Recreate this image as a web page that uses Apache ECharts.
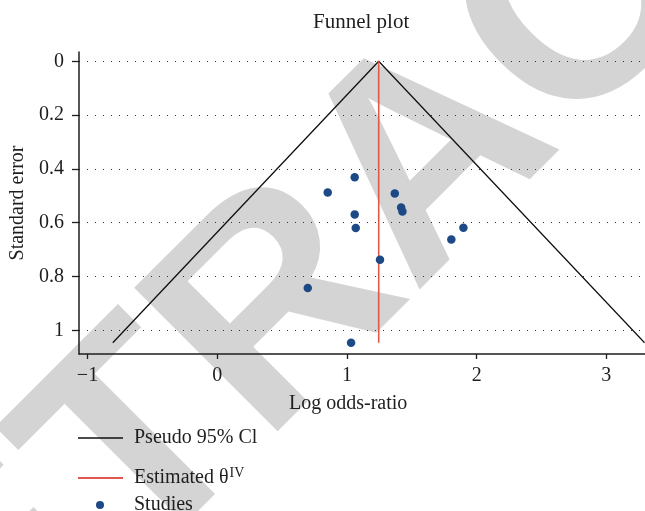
<!DOCTYPE html>
<html>
<head>
<meta charset="utf-8">
<script src="https://cdn.jsdelivr.net/npm/echarts@6/dist/echarts.min.js"></script>
<style>
  html, body { margin: 0; padding: 0; background: #fff; }
  #chart { width: 645px; height: 511px; }
</style>
</head>
<body>
<div id="chart"></div>
<script>
// Study estimates: log odds-ratio and its standard error
const studyLogOR = [1.060, 0.852, 1.369, 1.060, 1.068, 1.418, 1.428, 1.898, 1.805, 1.255, 0.698, 1.032];
const studySE    = [0.431, 0.488, 0.491, 0.569, 0.620, 0.543, 0.558, 0.619, 0.662, 0.738, 0.843, 1.046];

// Pseudo 95% confidence limits (left foot, apex, right foot)
const funnelLogOR = [-0.805, 1.245, 3.295];
const funnelSE    = [1.046, 0, 1.046];

// Inverse-variance pooled estimate, drawn down to the largest standard error
const estimateLogOR = [1.245, 1.245];
const estimateSE    = [0, 1.046];

// Axis ticks
const xTicks = [-1, 0, 1, 2, 3];
const yTicks = [0, 0.2, 0.4, 0.6, 0.8, 1];

const FONT = 'Liberation Serif';
const INK = '#1e1e1e';

const zip = (xs, ys) => xs.map((x, i) => [x, ys[i]]);

const chart = echarts.init(document.getElementById('chart'), null, { renderer: 'canvas' });

chart.setOption({
  animation: false,
  backgroundColor: '#ffffff',
  title: [
    {
      text: 'Funnel plot',
      left: 313, top: 12, padding: 0,
      textStyle: { fontFamily: FONT, fontSize: 21, fontWeight: 'normal', color: INK }
    },
    {
      text: 'Log odds-ratio',
      left: 289, top: 394, padding: 0,
      textStyle: { fontFamily: FONT, fontSize: 20, fontWeight: 'normal', color: INK }
    }
  ],
  graphic: [
    {
      type: 'text',
      z: -10,
      x: -211, y: 805,
      rotation: Math.PI / 4,
      silent: true,
      style: {
        text: 'RETRACTED',
        fill: '#d4d4d4',
        font: 'bold 295px "Liberation Sans", Arial, sans-serif',
        align: 'left',
        verticalAlign: 'middle'
      }
    }
  ],
  legend: [
    {
      data: [{ name: 'Pseudo 95% Cl', icon: 'rect' }],
      left: 78, top: 428, padding: 0,
      itemWidth: 45, itemHeight: 1.5,
      textStyle: { fontFamily: FONT, fontSize: 20, color: INK, padding: [0, 0, 0, 6] }
    },
    {
      data: [{ name: 'Estimated θ', icon: 'rect' }],
      left: 78, top: 466, padding: 0,
      itemWidth: 45, itemHeight: 2,
      formatter: () => 'Estimated θ{sup|IV}',
      textStyle: {
        fontFamily: FONT, fontSize: 20, color: INK, padding: [0, 0, 0, 6],
        rich: { sup: { fontFamily: FONT, fontSize: 14, color: INK, verticalAlign: 'top', padding: [0, 0, 10, 1] } }
      }
    },
    {
      data: [{ name: 'Studies', icon: 'circle' }],
      left: 96, top: 495, padding: 0,
      itemWidth: 8, itemHeight: 8,
      textStyle: { fontFamily: FONT, fontSize: 20, color: INK, padding: [0, 0, 0, 25] }
    }
  ],
  grid: { left: 79, right: 0, top: 52, bottom: 157, outerBoundsMode: 'none', containLabel: false },
  xAxis: {
    type: 'value',
    min: -1.0655, max: 3.298,
    axisLine: { show: true, onZero: false, lineStyle: { color: INK, width: 1.5 } },
    axisTick: { show: true, length: 5, customValues: xTicks, lineStyle: { color: INK, width: 1.3 } },
    axisLabel: {
      customValues: xTicks, margin: 12,
      fontFamily: FONT, fontSize: 20, color: INK,
      formatter: v => String(v).replace('-', '\u2212')
    },
    splitLine: { show: false }
  },
  yAxis: {
    type: 'value',
    inverse: true,
    min: -0.0346, max: 1.088,
    name: 'Standard error',
    nameLocation: 'middle', nameRotate: 90, nameGap: 49,
    nameTextStyle: { fontFamily: FONT, fontSize: 20, color: INK },
    axisLine: { show: true, onZero: false, lineStyle: { color: INK, width: 1.5 } },
    axisTick: { show: true, length: 7, customValues: yTicks, lineStyle: { color: INK, width: 1.3 } },
    axisLabel: {
      customValues: yTicks, margin: 15,
      fontFamily: FONT, fontSize: 20, color: INK,
      formatter: v => String(v)
    },
    splitLine: { show: true, lineStyle: { color: '#333', width: 1, type: [1, 7] } }
  },
  series: [
    {
      name: 'Pseudo 95% Cl',
      type: 'line',
      data: zip(funnelLogOR, funnelSE),
      showSymbol: false,
      color: '#111',
      lineStyle: { color: '#111', width: 1.3 },
      z: 3
    },
    {
      name: 'Estimated θ',
      type: 'line',
      data: zip(estimateLogOR, estimateSE),
      showSymbol: false,
      color: '#e2574c',
      lineStyle: { color: '#e2574c', width: 1.6 },
      z: 3
    },
    {
      name: 'Studies',
      type: 'scatter',
      data: zip(studyLogOR, studySE),
      symbol: 'circle',
      symbolSize: 8.5,
      color: '#1d4a86',
      itemStyle: { color: '#1d4a86', opacity: 1 },
      z: 4
    }
  ]
});
</script>
</body>
</html>
